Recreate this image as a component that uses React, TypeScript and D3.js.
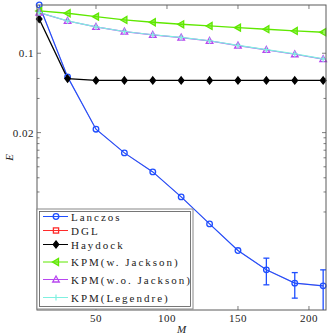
import React, { useEffect, useRef } from "react";
import * as d3 from "d3";

// sweep of M
const M = [10, 30, 50, 70, 90, 110, 130, 150, 170, 190, 210];

// E values
const lanczos = [0.266, 0.0619, 0.02143, 0.01326, 0.00902, 0.00543, 0.00314, 0.00183, 0.001237, 0.000945, 0.000894];
const dgl = [0.266, 0.0619, 0.02143, 0.01326, 0.00902, 0.00543, 0.00314, 0.00183, 0.001237, 0.000945, 0.000894];
const haydock = [0.2004, 0.0598, 0.0576, 0.0576, 0.0576, 0.0576, 0.0576, 0.0576, 0.0576, 0.0576, 0.0576];
const kpmJackson = [0.2357, 0.225, 0.21, 0.1964, 0.1875, 0.18, 0.1739, 0.1681, 0.1627, 0.1572, 0.1531];
const kpmNoJackson = [0.2278, 0.1924, 0.1704, 0.1549, 0.1449, 0.1372, 0.1283, 0.1166, 0.1069, 0.098, 0.0886];
const kpmLegendre = [0.2285, 0.193, 0.171, 0.1555, 0.1455, 0.1378, 0.1289, 0.1172, 0.1075, 0.0986, 0.0892];

// error bars on the Lanczos curve
const errM = [170, 190, 210];
const errLow = [0.000913, 0.000697, 0.0004];
const errHigh = [0.001568, 0.00117, 0.001237];

const xTicks = [50, 100, 150, 200];
const yTicks = [0.02, 0.1];
const yTickLabels = ["0.02", "0.1"];
const yMinor = [0.004, 0.006, 0.008, 0.01, 0.012, 0.014, 0.016, 0.018, 0.04, 0.06];

const series = [
  { name: "Lanczos", values: lanczos, color: "#1f4fff", marker: "circle" },
  { name: "DGL", values: dgl, color: "#ff2a2a", marker: "square" },
  { name: "Haydock", values: haydock, color: "#000000", marker: "diamond" },
  { name: "KPM(w. Jackson)", values: kpmJackson, color: "#5fe800", marker: "left" },
  { name: "KPM(w.o. Jackson)", values: kpmNoJackson, color: "#b847f0", marker: "up" },
  { name: "KPM(Legendre)", values: kpmLegendre, color: "#7ff0e0", marker: "plus" },
];

const drawMarker = (g, type, x, y, color) => {
  if (type === "circle") {
    g.append("circle").attr("cx", x).attr("cy", y).attr("r", 2.8)
      .attr("fill", "none").attr("stroke", color).attr("stroke-width", 1.3);
  } else if (type === "square") {
    g.append("rect").attr("x", x - 2.6).attr("y", y - 2.6).attr("width", 5.2).attr("height", 5.2)
      .attr("fill", "none").attr("stroke", color).attr("stroke-width", 1.3);
  } else if (type === "diamond") {
    g.append("path").attr("d", `M${x},${y - 3.6}L${x + 2.8},${y}L${x},${y + 3.6}L${x - 2.8},${y}Z`)
      .attr("fill", color).attr("stroke", color).attr("stroke-width", 1.2);
  } else if (type === "left") {
    g.append("path").attr("d", `M${x - 3.5},${y}L${x + 2.5},${y - 3.5}L${x + 2.5},${y + 3.5}Z`)
      .attr("fill", color).attr("fill-opacity", 0.6).attr("stroke", color).attr("stroke-width", 1.3);
  } else if (type === "up") {
    g.append("path").attr("d", `M${x},${y - 3.5}L${x + 3.3},${y + 2.5}L${x - 3.3},${y + 2.5}Z`)
      .attr("fill", "none").attr("stroke", color).attr("stroke-width", 1.3);
  } else if (type === "plus") {
    g.append("path").attr("d", `M${x - 3},${y}H${x + 3}M${x},${y - 3}V${y + 3}`)
      .attr("stroke", color).attr("stroke-width", 1.2);
  }
};

const App = () => {
  const svgRef = useRef();

  useEffect(() => {
    document.body.style.margin = "0";
    const width = 332;
    const height = 336;
    const plot = { left: 37, right: 326, top: 5, bottom: 310 };
    const font = "'Liberation Serif', 'DejaVu Serif', serif";
    const axisColor = "#5a5a5a";

    const svg = d3.select(svgRef.current);
    svg.selectAll("*").remove();
    svg.attr("width", width).attr("height", height);

    const x = d3.scaleLinear().domain([8.45, 212]).range([plot.left, plot.right]);
    const y = d3.scaleLog().domain([0.000548, 0.266]).range([plot.bottom, plot.top]);

    svg.append("rect").attr("width", width).attr("height", height).attr("fill", "#fff");

    svg.append("defs").append("clipPath").attr("id", "clip")
      .append("rect")
      .attr("x", plot.left).attr("y", plot.top)
      .attr("width", plot.right - plot.left).attr("height", plot.bottom - plot.top);

    // ticks (inward, all four sides)
    const ticks = svg.append("g").attr("stroke", axisColor).attr("stroke-width", 0.8);
    xTicks.forEach(t => {
      ticks.append("line").attr("x1", x(t)).attr("x2", x(t)).attr("y1", plot.bottom).attr("y2", plot.bottom - 4);
      ticks.append("line").attr("x1", x(t)).attr("x2", x(t)).attr("y1", plot.top).attr("y2", plot.top + 4);
    });
    yTicks.forEach(t => {
      ticks.append("line").attr("x1", plot.left).attr("x2", plot.left + 4).attr("y1", y(t)).attr("y2", y(t));
      ticks.append("line").attr("x1", plot.right).attr("x2", plot.right - 4).attr("y1", y(t)).attr("y2", y(t));
    });
    yMinor.forEach(t => {
      ticks.append("line").attr("x1", plot.left).attr("x2", plot.left + 2.5).attr("y1", y(t)).attr("y2", y(t));
      ticks.append("line").attr("x1", plot.right).attr("x2", plot.right - 2.5).attr("y1", y(t)).attr("y2", y(t));
    });

    // tick labels
    svg.append("g").selectAll("text").data(xTicks).join("text")
      .attr("x", d => x(d)).attr("y", 322)
      .attr("text-anchor", "middle")
      .style("font-family", font).style("font-size", "11px").style("letter-spacing", "0.5px")
      .attr("fill", "#222")
      .text(d => d);

    svg.append("g").selectAll("text").data(yTicks).join("text")
      .attr("x", 34).attr("y", d => y(d) + 4)
      .attr("text-anchor", "end")
      .style("font-family", font).style("font-size", "11px").style("letter-spacing", "0.5px")
      .attr("fill", "#222")
      .text((d, i) => yTickLabels[i]);

    // axis labels
    svg.append("text")
      .attr("x", (plot.left + plot.right) / 2).attr("y", 333)
      .attr("text-anchor", "middle")
      .style("font-family", font).style("font-size", "11px").style("font-style", "italic")
      .attr("fill", "#222")
      .text("M");

    svg.append("text")
      .attr("transform", `translate(13, ${(plot.top + plot.bottom) / 2}) rotate(-90)`)
      .attr("text-anchor", "middle")
      .style("font-family", font).style("font-size", "11px").style("font-style", "italic")
      .attr("fill", "#222")
      .text("E");

    // lines (DGL sits under Lanczos)
    const line = d3.line().x((d, i) => x(M[i])).y(d => y(d));
    const lines = svg.append("g").attr("clip-path", "url(#clip)");
    const order = [1, 0, 2, 3, 4, 5];
    order.forEach(k => {
      const s = series[k];
      lines.append("path")
        .attr("d", line(s.values))
        .attr("fill", "none")
        .attr("stroke", s.color)
        .attr("stroke-width", k === 1 ? 0.4 : k === 2 || k === 3 ? 1.3 : 1.2);
    });

    // error bars
    const eb = svg.append("g").attr("clip-path", "url(#clip)")
      .attr("stroke", series[0].color).attr("stroke-width", 1.3);
    errM.forEach((m, i) => {
      const cx = x(m);
      eb.append("line").attr("x1", cx).attr("x2", cx).attr("y1", y(errLow[i])).attr("y2", y(errHigh[i]));
      eb.append("line").attr("x1", cx - 3).attr("x2", cx + 3).attr("y1", y(errLow[i])).attr("y2", y(errLow[i]));
      eb.append("line").attr("x1", cx - 3).attr("x2", cx + 3).attr("y1", y(errHigh[i])).attr("y2", y(errHigh[i]));
    });

    // markers (DGL squares hidden under Lanczos circles)
    const marks = svg.append("g");
    [0, 2, 3, 4, 5].forEach(k => {
      const s = series[k];
      s.values.forEach((v, i) => drawMarker(marks, s.marker, x(M[i]), y(v), s.color));
    });

    // frame
    svg.append("rect")
      .attr("x", plot.left).attr("y", plot.top)
      .attr("width", plot.right - plot.left).attr("height", plot.bottom - plot.top)
      .attr("fill", "none").attr("stroke", axisColor).attr("stroke-width", 1);

    // legend
    const legend = svg.append("g");
    legend.append("rect").attr("x", 37).attr("y", 209).attr("width", 156).attr("height", 100)
      .attr("fill", "#fff").attr("stroke", "#888").attr("stroke-width", 1);
    legend.append("rect").attr("x", 39.5).attr("y", 211.5).attr("width", 151).attr("height", 95)
      .attr("fill", "#fff").attr("stroke", "#555").attr("stroke-width", 0.8);

    const rowY = [216.5, 230.5, 244.5, 262, 279.5, 297.5];
    series.forEach((s, i) => {
      const ry = rowY[i];
      legend.append("line").attr("x1", 43).attr("x2", 68).attr("y1", ry).attr("y2", ry)
        .attr("stroke", s.color).attr("stroke-width", 1);
      drawMarker(legend, s.marker, 56, ry, s.color);
      legend.append("text")
        .attr("x", 71).attr("y", ry + 4)
        .style("font-family", font).style("font-size", "11px").style("letter-spacing", "2px")
        .attr("fill", "#222")
        .text(s.name);
    });
  }, []);

  return (
    <div style={{ width: 332, height: 336 }}>
      <svg ref={svgRef} style={{ display: "block" }}></svg>
    </div>
  );
};

export default App;
